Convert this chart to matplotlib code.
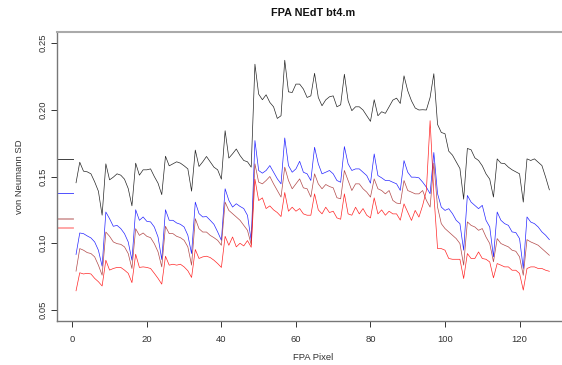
import matplotlib
matplotlib.use("Agg")
import matplotlib.pyplot as plt
import numpy as np

# FPA pixel index
pixel = np.arange(1, 129)

black = [0.1453, 0.1607, 0.154, 0.1535, 0.152, 0.146, 0.139, 0.121,
         0.1595, 0.1475, 0.1495, 0.152, 0.151, 0.148, 0.141, 0.128,
         0.160, 0.151, 0.155, 0.155, 0.1557, 0.150, 0.145, 0.1364,
         0.1652, 0.158, 0.1595, 0.161, 0.160, 0.158, 0.1557, 0.139,
         0.1698, 0.1575, 0.161, 0.165, 0.161, 0.157, 0.155, 0.148,
         0.1843, 0.1638, 0.167, 0.1706, 0.1657, 0.162, 0.161, 0.157,
         0.2341, 0.2117, 0.2075, 0.2112, 0.2055, 0.2022, 0.1935, 0.1955,
         0.2371, 0.2134, 0.2129, 0.2192, 0.2192, 0.2155, 0.2092, 0.2104,
         0.2273, 0.2092, 0.203, 0.2074, 0.2097, 0.2104, 0.2022, 0.2037,
         0.2266, 0.2067, 0.1993, 0.2022, 0.2022, 0.1998, 0.1955, 0.1913,
         0.2075, 0.1955, 0.1985, 0.1973, 0.2022, 0.2072, 0.2087, 0.2047,
         0.2254, 0.2142, 0.2067, 0.2013, 0.1998, 0.2, 0.1998, 0.2092,
         0.227, 0.189, 0.183, 0.182, 0.169, 0.166, 0.161, 0.156,
         0.133, 0.171, 0.170, 0.164, 0.162, 0.158, 0.152, 0.148,
         0.1346, 0.1632, 0.160, 0.1597, 0.157, 0.155, 0.1535, 0.152,
         0.1308, 0.1632, 0.162, 0.1632, 0.1607, 0.1582, 0.1495, 0.140]

blue = [0.0916, 0.1077, 0.1072, 0.1055, 0.104, 0.101, 0.0948, 0.0828,
        0.1234, 0.1184, 0.1127, 0.1134, 0.111, 0.1072, 0.101, 0.0873,
        0.1251, 0.1172, 0.1197, 0.1164, 0.116, 0.1122, 0.1047, 0.0878,
        0.1251, 0.1172, 0.1172, 0.1152, 0.1142, 0.1122, 0.106, 0.0923,
        0.1308, 0.1222, 0.1197, 0.120, 0.1172, 0.1142, 0.1085, 0.1022,
        0.1408, 0.1321, 0.1271, 0.1296, 0.1276, 0.126, 0.1209, 0.102,
        0.1769, 0.1545, 0.1525, 0.1545, 0.1582, 0.1532, 0.1483, 0.1445,
        0.1789, 0.1582, 0.1532, 0.1557, 0.1614, 0.1532, 0.152, 0.147,
        0.1719, 0.1595, 0.152, 0.1532, 0.1545, 0.152, 0.147, 0.1457,
        0.1724, 0.1595, 0.1545, 0.1557, 0.1557, 0.1532, 0.1507, 0.145,
        0.1669, 0.1507, 0.149, 0.147, 0.147, 0.1457, 0.1445, 0.1396,
        0.1619, 0.1532, 0.1495, 0.1495, 0.149, 0.1458, 0.142, 0.1371,
        0.168, 0.1371, 0.1271, 0.1246, 0.1259, 0.1222, 0.1172, 0.1147,
        0.0948, 0.1358, 0.1308, 0.1284, 0.1259, 0.1284, 0.1172, 0.1122,
        0.0898, 0.1234, 0.1172, 0.1147, 0.1134, 0.1085, 0.108, 0.1035,
        0.0811, 0.1197, 0.1159, 0.1147, 0.1122, 0.1085, 0.106, 0.1027]

rose = [0.0791, 0.096, 0.0948, 0.093, 0.0923, 0.0898, 0.0836, 0.0761,
        0.1084, 0.1052, 0.101, 0.0997, 0.0992, 0.0973, 0.0923, 0.0811,
        0.1109, 0.1059, 0.1077, 0.1052, 0.1042, 0.0997, 0.0936, 0.0823,
        0.1127, 0.1072, 0.1072, 0.1052, 0.1042, 0.1022, 0.0973, 0.0836,
        0.1184, 0.1109, 0.1084, 0.1084, 0.1059, 0.1042, 0.1022, 0.0985,
        0.1308, 0.1246, 0.1222, 0.1197, 0.1172, 0.1134, 0.1097, 0.099,
        0.1595, 0.1458, 0.1445, 0.147, 0.150, 0.1445, 0.1395, 0.1346,
        0.157, 0.147, 0.1408, 0.1445, 0.1482, 0.1415, 0.1408, 0.1346,
        0.152, 0.1445, 0.1408, 0.144, 0.1425, 0.1415, 0.1341, 0.1333,
        0.1545, 0.147, 0.1395, 0.1445, 0.1445, 0.1408, 0.1383, 0.1346,
        0.1482, 0.1408, 0.1395, 0.137, 0.1395, 0.1321, 0.1301, 0.1296,
        0.147, 0.1395, 0.1383, 0.137, 0.137, 0.1395, 0.1321, 0.1271,
        0.160, 0.1271, 0.1147, 0.111, 0.1085, 0.106, 0.1035, 0.0998,
        0.0836, 0.116, 0.1134, 0.1122, 0.1097, 0.111, 0.1047, 0.0998,
        0.0861, 0.1035, 0.0998, 0.0985, 0.0973, 0.0948, 0.094, 0.0898,
        0.076, 0.1027, 0.101, 0.0998, 0.0985, 0.096, 0.0935, 0.091]

red = [0.0644, 0.0779, 0.077, 0.0775, 0.077, 0.0737, 0.0712, 0.068,
       0.0873, 0.0799, 0.0811, 0.0819, 0.0819, 0.0799, 0.0775, 0.0705,
       0.0918, 0.0819, 0.0823, 0.0819, 0.0811, 0.0775, 0.0737, 0.0694,
       0.0903, 0.0836, 0.0843, 0.0836, 0.0843, 0.0823, 0.0794, 0.0744,
       0.0953, 0.0886, 0.0898, 0.0903, 0.0893, 0.0873, 0.0848, 0.0819,
       0.1052, 0.0985, 0.1047, 0.0973, 0.100, 0.098, 0.102, 0.097,
       0.148, 0.132, 0.134, 0.126, 0.128, 0.125, 0.123, 0.120,
       0.138, 0.124, 0.127, 0.124, 0.126, 0.122, 0.121, 0.121,
       0.137, 0.125, 0.122, 0.127, 0.123, 0.124, 0.119, 0.118,
       0.137, 0.122, 0.121, 0.127, 0.122, 0.126, 0.121, 0.119,
       0.134, 0.122, 0.125, 0.121, 0.124, 0.122, 0.122, 0.1173,
       0.1295, 0.1233, 0.1171, 0.1246, 0.1196, 0.1283, 0.1395, 0.1918,
       0.137, 0.096, 0.096, 0.0948, 0.0886, 0.088, 0.088, 0.088,
       0.0736, 0.0923, 0.0886, 0.0886, 0.0935, 0.0886, 0.088, 0.086,
       0.0741, 0.0848, 0.0836, 0.0823, 0.0823, 0.0798, 0.0798, 0.0774,
       0.0649, 0.0811, 0.0823, 0.0823, 0.0811, 0.0811, 0.0798, 0.079]

# reference levels drawn as short segments at the left edge
ref_levels = [0.1634, 0.138, 0.1179, 0.1112]
ref_colors = ["#404040", "#5050FF", "#D4A0A0", "#FFA0A0"]
ref_widths = [0.7, 0.7, 1.3, 1.3]

y_ticks = [0.05, 0.10, 0.15, 0.20, 0.25]
y_ticklabels = ["0.05", "0.10", "0.15", "0.20", "0.25"]
x_ticks = [0, 20, 40, 60, 80, 100, 120]

plt.rcParams["font.family"] = ["Liberation Sans", "DejaVu Sans"]

W, H = 562, 365
fig = plt.figure(figsize=(W / 100, H / 100), dpi=100)
left_px, right_px, top_px, bot_px = 57.1, 568.3, 32.3, 320.7
ax = fig.add_axes([left_px / W, 1 - bot_px / H, (right_px - left_px) / W, (bot_px - top_px) / H])

series = [(black, "#000000"), (blue, "#0000FF"), (rose, "#A52A2A"), (red, "#FF0000")]
for vals, col in series:
    ax.plot(pixel, vals, color=col, lw=0.5, alpha=0.85)

for lev, col, lw in zip(ref_levels, ref_colors, ref_widths):
    ax.plot([-6, 0.2], [lev, lev], color=col, lw=lw)

ax.set_xlim(-4.08, 133.08)
ax.set_ylim(0.042, 0.258)

ax.set_yticks(y_ticks)
ax.set_yticklabels(y_ticklabels, rotation=90, va="center")
ax.set_xticks(x_ticks)
ax.tick_params(axis="both", labelsize=6.8, colors="#333333", length=4, width=0.7, pad=3)
ax.tick_params(axis="x", pad=6)

ax.spines["top"].set_color("#AAAAAA")
ax.spines["top"].set_linewidth(1.5)
for s in ["left", "bottom"]:
    ax.spines[s].set_color("#777777")
    ax.spines[s].set_linewidth(1.0)
ax.spines["right"].set_visible(False)

fig.text((left_px + right_px) / 2 / W, 1 - 13 / H, "FPA NEdT bt4.m", ha="center", va="center",
         fontsize=7.8, fontweight="bold", color="#111111")
fig.text((left_px + right_px) / 2 / W, 1 - 357 / H, "FPA Pixel", ha="center", va="center",
         fontsize=6.8, color="#333333")
fig.text(20 / W, 1 - (top_px + bot_px) / 2 / H, "von Neumann SD", ha="center", va="center",
         rotation=90, fontsize=6.8, color="#333333")

fig.savefig("out.png", dpi=100)
